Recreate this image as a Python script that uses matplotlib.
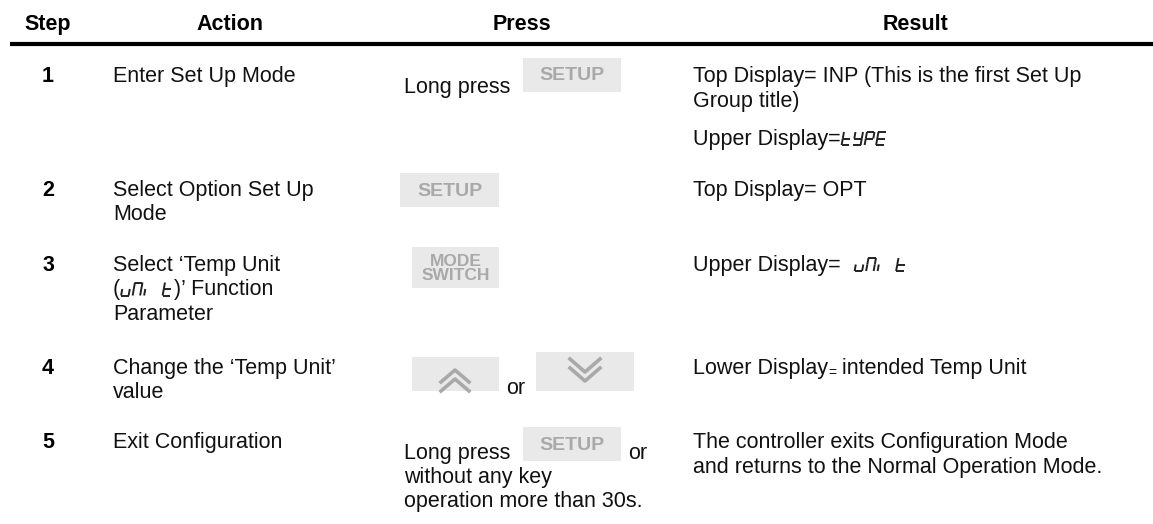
import matplotlib
matplotlib.use("Agg")
import matplotlib.pyplot as plt
from matplotlib.patches import Rectangle

W, H = 1153, 524
FONT = "Liberation Sans"
FS = 15.5

headers = ["Step", "Action", "Press", "Result"]
header_x = [48, 230, 522, 915]
steps = ["1", "2", "3", "4", "5"]
actions = [
    ["Enter Set Up Mode"],
    ["Select Option Set Up", "Mode"],
    ["Select \u2018Temp Unit", None, "Parameter"],
    ["Change the \u2018Temp Unit\u2019", "value"],
    ["Exit Configuration"],
]
results = [
    ["Top Display= INP (This is the first Set Up", "Group title)"],
    ["Top Display= OPT"],
    [],
    [],
    ["The controller exits Configuration Mode", "and returns to the Normal Operation Mode."],
]
row_base = [82, 196, 271, 374, 448]
LINE = 24.5

fig = plt.figure(figsize=(W / 100, H / 100), dpi=100)
ax = fig.add_axes([0, 0, 1, 1])
ax.set_xlim(0, W)
ax.set_ylim(H, 0)
ax.axis("off")
renderer = fig.canvas.get_renderer()


def txt(x, y, s, **kw):
    kw.setdefault("fontsize", FS)
    kw.setdefault("family", FONT)
    kw.setdefault("va", "baseline")
    kw.setdefault("color", "#111111")
    return ax.text(x, y, s, **kw)


def width(t):
    return t.get_window_extent(renderer).width


SEG = {
    "t": "defg", "Y": "bcdfg", "P": "abefg", "E": "adefg",
    "u": "cde", "n": "abcef", "i": "c", " ": "",
}
SEGLINES = {
    "a": ((0, 1), (1, 1)), "b": ((1, 1), (1, 0.5)), "c": ((1, 0.5), (1, 0)),
    "d": ((0, 0), (1, 0)), "e": ((0, 0), (0, 0.5)), "f": ((0, 0.5), (0, 1)),
    "g": ((0, 0.5), (1, 0.5)),
}


def sevenseg(x0, base, s, w=7.5, h=13, gap=4, slant=0.18):
    x = x0
    for ch in s:
        cw = 3 if ch == "i" else w
        for seg in SEG.get(ch, ""):
            (u1, v1), (u2, v2) = SEGLINES[seg]
            if ch == "i":
                u1, u2 = 0, 0
            xs = [x + u1 * cw + v1 * h * slant, x + u2 * cw + v2 * h * slant]
            ys = [base - v1 * h, base - v2 * h]
            ax.plot(xs, ys, color="#222222", lw=1.4, solid_capstyle="butt")
        x += cw + gap
    return x


def button(x0, y0, x1, y1, label=None, fs=14):
    ax.add_patch(Rectangle((x0, y0), x1 - x0, y1 - y0, facecolor="#e9e9e9",
                           edgecolor="none"))
    if label:
        ax.text((x0 + x1) / 2, (y0 + y1) / 2 + 1, label, ha="center", va="center",
                fontsize=fs, family=FONT, weight="bold", color="#a9a9a9",
                linespacing=0.95)


# header
for h, x in zip(headers, header_x):
    txt(x, 30, h, ha="center", weight="bold", color="black")
ax.plot([10, W], [44, 44], color="black", lw=3, solid_capstyle="butt")

# steps and actions
for i, (s, acts) in enumerate(zip(steps, actions)):
    b = row_base[i]
    txt(48, b, s, ha="center", weight="bold", color="black")
    for j, line in enumerate(acts):
        if line is not None:
            txt(113, b + j * LINE, line)

# row 3 action line 2 with segment text
b = row_base[2] + LINE
t = txt(113, b, "(")
x = 113 + width(t) + 1
x = sevenseg(x, b, "uni t")
txt(x, b, ")\u2019 Function")

# results
for i, lines in enumerate(results):
    for j, line in enumerate(lines):
        txt(693, row_base[i] + j * LINE, line)

t = txt(693, 145, "Upper Display=")
sevenseg(693 + width(t) + 1, 145, "tYPE")
t = txt(693, row_base[2], "Upper Display=  ")
sevenseg(693 + width(t) + 2, row_base[2], "uni t")
t = txt(693, row_base[3], "Lower Display")
x = 693 + width(t)
t2 = txt(x, row_base[3] + 3, "=", fontsize=10)
txt(x + width(t2) + 6, row_base[3], "intended Temp Unit")

# press column
txt(404, 93, "Long press")
button(523, 58, 621, 92, "SETUP")
button(400, 173, 499, 207, "SETUP")
button(412, 247, 499, 288, "MODE\nSWITCH", fs=12.5)
button(412, 357, 499, 391)
txt(506, 394, "or")
button(536, 352, 634, 391)
for dy in (0, 9):
    ax.plot([441, 455, 469], [382 + dy, 370 + dy, 382 + dy], color="#a9a9a9", lw=2.6)
    ax.plot([570, 585, 600], [359 + dy, 372 + dy, 359 + dy], color="#a9a9a9", lw=2.6)
txt(404, 459, "Long press")
button(523, 427, 621, 461, "SETUP")
txt(628, 459, "or")
txt(404, 483, "without any key")
txt(404, 507, "operation more than 30s.")

fig.savefig("out.png", dpi=100, facecolor="white")
